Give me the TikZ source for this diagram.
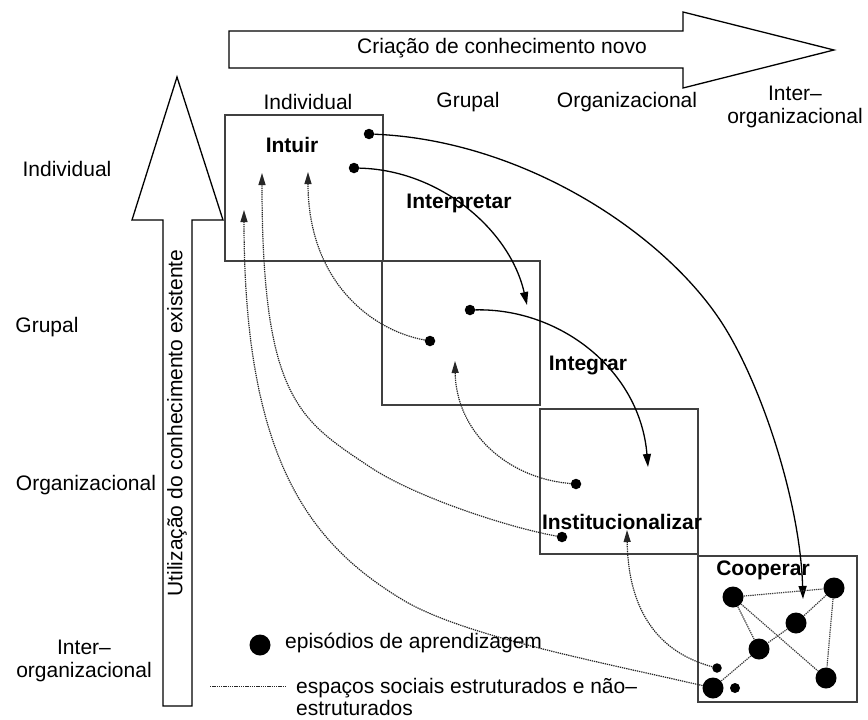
\documentclass[tikz,border=0pt]{standalone}
\usepackage{fontspec}
\setmainfont{Liberation Sans}
\usetikzlibrary{arrows.meta}
\begin{document}
\begin{tikzpicture}[x=1pt,y=-1pt,
  lbl/.style={font=\fontsize{21}{23}\selectfont, align=center, inner sep=0pt},
  stagelbl/.style={font=\fontsize{21}{23}\selectfont\bfseries, inner sep=0pt},
  bigarrow/.style={draw=black, line width=1.3pt, fill=white, line join=miter},
  stage/.style={draw=black!75, line width=1.6pt},
  ep/.style={circle, fill=black, inner sep=0pt, minimum size=10.5pt},
  bigep/.style={circle, fill=black, inner sep=0pt, minimum size=21pt},
  flow/.style={line width=1.3pt, -{Triangle[length=13pt,width=8pt]}},
  space/.style={line width=1.2pt, black!85, dash pattern=on 1.3pt off 0.9pt},
  spacearrow/.style={space, -{Triangle[length=12pt,width=7pt]}},
  link/.style={line width=1.2pt, black!75, dash pattern=on 1.3pt off 0.9pt}
]
\useasboundingbox (0,0) rectangle (868,720);

% broad arrows along the two axes
\draw[bigarrow] (229,31) -- (683,31) -- (683,12) -- (834,50) -- (683,88)
  -- (683,68) -- (229,68) -- cycle;
\node[lbl] (create) at (502,48) {Criação de conhecimento novo};

\draw[bigarrow] (163,706) -- (163,220) -- (132,220) -- (177,77) -- (223,220)
  -- (192,220) -- (192,706) -- cycle;
\node[lbl, rotate=90] (use) at (177,423) {Utilização do conhecimento existente};

% level headings
\node[lbl] (hind) at (308,102) {Individual};
\node[lbl] (hgrp) at (468,102) {Grupal};
\node[lbl] (horg) at (627,102) {Organizacional};
\node[lbl] (hint) at (795,107) {Inter–\\organizacional};

\node[lbl] (vind) at (67,169) {Individual};
\node[lbl] (vgrp) at (47,327) {Grupal};
\node[lbl] (vorg) at (86,485) {Organizacional};
\node[lbl] (vint) at (84,661) {Inter–\\organizacional};

% stage boxes on the diagonal
\draw[stage] (225,115) rectangle (383,261);
\draw[stage] (382,261) rectangle (540,405);
\draw[stage] (540,409) rectangle (698,554);
\draw[stage] (698,556) rectangle (857,702);

% learning episodes
\node[ep] (i1) at (369,134) {};
\node[ep] (i2) at (354,168) {};
\node[ep] (g1) at (430,341) {};
\node[ep] (g2) at (470,310) {};
\node[ep] (o1) at (576,484) {};
\node[ep] (o2) at (562,537) {};
\node[bigep] (c1) at (733,597) {};
\node[bigep] (c2) at (834,588) {};
\node[bigep] (c3) at (796,623) {};
\node[bigep] (c4) at (759,649) {};
\node[bigep] (c5) at (826,678) {};
\node[bigep] (c6) at (713,688) {};
\node[ep, minimum size=9.5pt] (s1) at (717,668) {};
\node[ep, minimum size=10pt] (s2) at (735,688) {};

% free ends of the connectors
\coordinate (tA) at (527,305);
\coordinate (tB) at (648,467);
\coordinate (tC) at (803,599);
\coordinate (mC) at (720,320);
\coordinate (t1) at (308,172);
\coordinate (t2) at (455,361);
\coordinate (t3) at (262,173);
\coordinate (m3) at (370,467);
\coordinate (t4) at (244,210);
\coordinate (m4) at (403,600);
\coordinate (t5) at (627,530);

% feed-forward flows
\draw[flow] (i2) .. controls (440,170) and (510,230) .. (tA);
\draw[flow] (g2) .. controls (560,308) and (640,370) .. (tB);
\draw[flow] (i1) .. controls (520,140) and (660,230) .. (mC)
  .. controls (760,380) and (800,500) .. (tC);

% feedback through social spaces
\draw[spacearrow] (g1) .. controls (370,330) and (308,280) .. (t1);
\draw[spacearrow] (o1) .. controls (505,478) and (456,430) .. (t2);
\draw[spacearrow] (o2) .. controls (510,528) and (415,497) .. (m3)
  .. controls (300,420) and (262,400) .. (t3);
\draw[spacearrow] (c6) .. controls (600,662) and (463,636) .. (m4)
  .. controls (310,544) and (244,460) .. (t4);
\draw[spacearrow] (s1) .. controls (650,650) and (628,600) .. (t5);

% network inside the cooperation box
\draw[link] (c1) -- (c2);
\draw[link] (c1) -- (c4);
\draw[link] (c1) -- (c5);
\draw[link] (c2) -- (c3);
\draw[link] (c2) -- (c5);
\draw[link] (c3) -- (c4);
\draw[link] (c4) -- (c6);

% stage names
\node[stagelbl] (intuir) at (292,145) {Intuir};
\node[stagelbl] (interp) at (459,203) {Interpretar};
\node[stagelbl] (integ) at (588,365) {Integrar};
\node[stagelbl] (instit) at (622,522) {Institucionalizar};
\node[stagelbl] (coop) at (763,570) {Cooperar};

% legend
\node[bigep] (lgdot) at (260,645) {};
\node[lbl, anchor=west] (lgep) at (285,643) {episódios de aprendizagem};
\coordinate (lga) at (210,686);
\coordinate (lgb) at (285,686);
\draw[space, line width=0.9pt] (lga) -- (lgb);
\node[lbl, anchor=west, align=left, font=\fontsize{21}{21.5}\selectfont] (lgsp) at (296,697)
  {espaços sociais estruturados e não–\\estruturados};
\end{tikzpicture}
\end{document}
